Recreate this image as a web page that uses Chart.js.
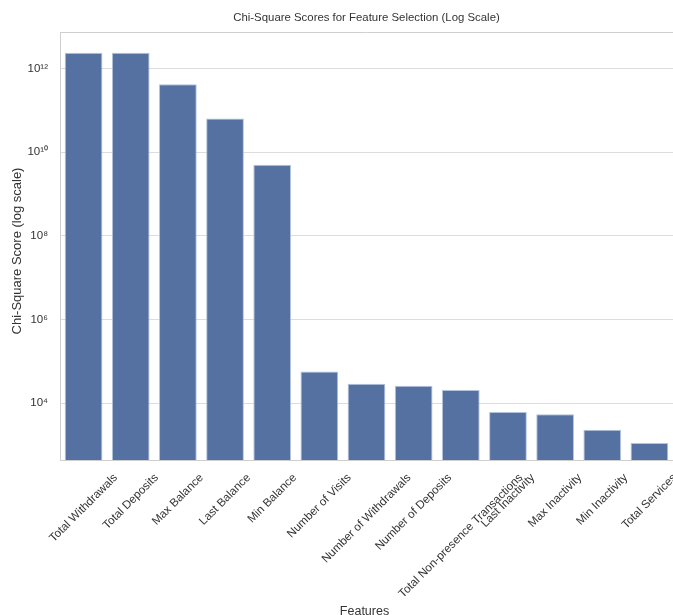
<!DOCTYPE html>
<html>
<head>
<meta charset="utf-8">
<script src="https://cdn.jsdelivr.net/npm/chart.js@4.4.0/dist/chart.umd.min.js"></script>
<style>
  html, body { margin: 0; padding: 0; background: #fff; }
  #wrap { width: 673px; height: 615px; }
</style>
</head>
<body>
<div id="wrap"><canvas id="chiChart" width="673" height="615"></canvas></div>
<script>
const features = [
  'Total Withdrawals', 'Total Deposits', 'Max Balance', 'Last Balance', 'Min Balance',
  'Number of Visits', 'Number of Withdrawals', 'Number of Deposits',
  'Total Non-presence Transactions', 'Last Inactivity', 'Max Inactivity',
  'Min Inactivity', 'Total Services'
];
const chiScores = [
  2.4e12, 2.4e12, 4.2e11, 6.4e10, 5.0e9,
  5.7e4, 2.9e4, 2.6e4, 2.05e4, 6.1e3, 5.4e3, 2.3e3, 1.12e3
];
const yTicks = [1e4, 1e6, 1e8, 1e10, 1e12];
const yTickLabels = ['10⁴', '10⁶', '10⁸', '10¹⁰', '10¹²'];

const FONT = '"Liberation Sans", Arial, sans-serif';
const TEXT = '#333';

// rotated category labels, centred under each bar, plus titles and top spine
const decorations = {
  id: 'decorations',
  afterDraw(chart) {
    const { ctx, chartArea, scales } = chart;
    const x = scales.x;
    ctx.save();
    ctx.strokeStyle = '#cfcfcf';
    ctx.lineWidth = 1;
    ctx.beginPath();
    ctx.moveTo(chartArea.left, chartArea.top + 0.5);
    ctx.lineTo(chartArea.right, chartArea.top + 0.5);
    ctx.stroke();

    ctx.fillStyle = TEXT;
    ctx.font = '11.6px ' + FONT;
    const c = Math.SQRT1_2;
    features.forEach((name, i) => {
      const px = x.getPixelForValue(i);
      const w = ctx.measureText(name).width;
      const h = 11;
      const side = (w + h) * c;
      ctx.save();
      ctx.translate(px, chartArea.bottom + 12 + side / 2);
      ctx.rotate(-Math.PI / 4);
      ctx.textAlign = 'center';
      ctx.textBaseline = 'middle';
      ctx.fillText(name, 0, 0);
      ctx.restore();
    });

    const midX = (chartArea.left + chartArea.right) / 2;
    ctx.textAlign = 'center';
    ctx.textBaseline = 'top';
    ctx.font = '12.5px ' + FONT;
    ctx.fillText('Features', midX - 2, 605);
    ctx.font = '11.4px ' + FONT;
    ctx.fillText('Chi-Square Scores for Feature Selection (Log Scale)', midX, 12);

    ctx.save();
    ctx.font = '13px ' + FONT;
    ctx.translate(17, 251);
    ctx.rotate(-Math.PI / 2);
    ctx.textBaseline = 'middle';
    ctx.fillText('Chi-Square Score (log scale)', 0, 0);
    ctx.restore();
    ctx.restore();
  }
};

new Chart(document.getElementById('chiChart'), {
  type: 'bar',
  data: {
    labels: features,
    datasets: [{
      data: chiScores,
      backgroundColor: '#5571a2',
      borderColor: 'rgba(170,188,215,0.9)',
      borderWidth: 1,
      categoryPercentage: 1.0,
      barPercentage: 0.8
    }]
  },
  options: {
    responsive: false,
    animation: false,
    layout: { padding: { left: 0, top: 32, right: -3, bottom: 155 } },
    plugins: { legend: { display: false }, tooltip: { enabled: false } },
    scales: {
      x: {
        ticks: { display: false },
        grid: { display: false },
        border: { color: '#cfcfcf', width: 1 },
        afterFit(scale) { scale.height = 0; }
      },
      y: {
        type: 'logarithmic',
        min: 437,
        max: 7.5e12,
        afterBuildTicks(scale) { scale.ticks = yTicks.map(v => ({ value: v })); },
        afterFit(scale) { scale.width = 60; },
        ticks: {
          padding: 12,
          color: TEXT,
          font: { family: FONT, size: 11.5 },
          callback: (v) => {
            const k = yTicks.indexOf(v);
            return k >= 0 ? yTickLabels[k] : '';
          }
        },
        grid: { color: '#dcdcdc', lineWidth: 1, drawTicks: false },
        border: { color: '#cfcfcf', width: 1 }
      }
    }
  },
  plugins: [decorations]
});
</script>
</body>
</html>
